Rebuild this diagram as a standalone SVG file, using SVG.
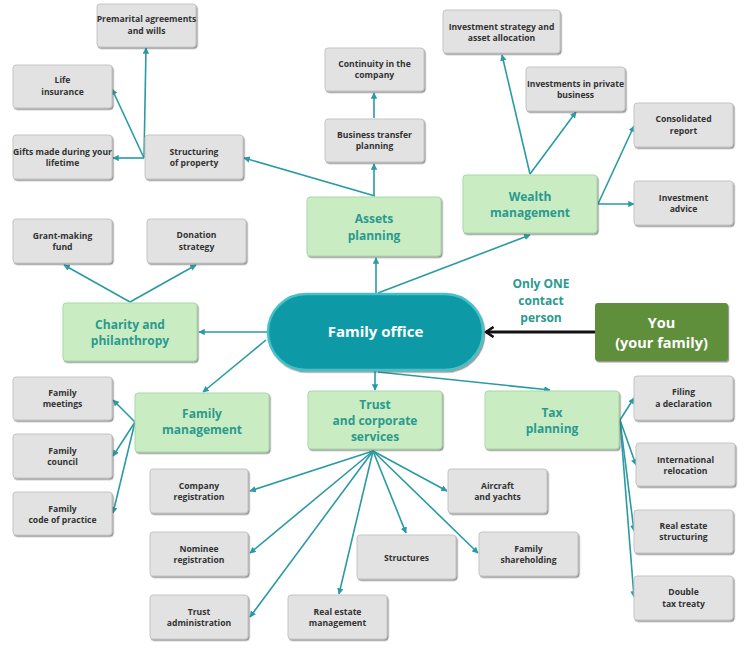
<svg xmlns="http://www.w3.org/2000/svg" width="750" height="669" viewBox="0 0 750 669">
<defs>
<marker id="a" viewBox="0 0 10 10" refX="9" refY="5" markerWidth="4" markerHeight="4" orient="auto"><path d="M0,0L10,5L0,10z" fill="#2a9aa3"/></marker>
<marker id="b" viewBox="0 0 10 10" refX="8" refY="5" markerWidth="4.5" markerHeight="4.5" orient="auto"><path d="M2,1L8,5L2,9" fill="none" stroke="#111" stroke-width="2"/></marker>
<filter id="s" x="-10%" y="-10%" width="125%" height="130%"><feDropShadow dx="1.2" dy="1.5" stdDeviation="0.6" flood-color="#555" flood-opacity="0.6"/></filter>
</defs>
<style>
.g{fill:#e2e2e2;stroke:#c4c4c4;stroke-width:1;filter:url(#s)}
.gt{font-family:"Open Sans","DejaVu Sans",sans-serif;font-weight:bold;font-size:8.6px;fill:#333;text-anchor:middle}
.n{fill:#c9ecc2;stroke:#a9d7a7;stroke-width:1;filter:url(#s)}
.nt{font-family:"Open Sans","DejaVu Sans",sans-serif;font-weight:bold;font-size:12px;fill:#2a9a8e;text-anchor:middle}
.c{fill:none;stroke:#2a9aa3;stroke-width:1.6;marker-end:url(#a)}
</style>
<rect width="750" height="669" fill="#fff"/>
<g id="connectors">
<path class="c" d="M376,294V258"/>
<path class="c" d="M378,293L530,235"/>
<path class="c" d="M374,196V164"/>
<path class="c" d="M374,118V93"/>
<path class="c" d="M375,196L244,158"/>
<path class="c" d="M144,158H113"/>
<path class="c" d="M144,158L112,89"/>
<path class="c" d="M144,158L146,48"/>
<path class="c" d="M530,174L502,55"/>
<path class="c" d="M530,174L576,112"/>
<path class="c" d="M598,204L634,126"/>
<path class="c" d="M598,204H634"/>
<path class="c" d="M130,302L64,265"/>
<path class="c" d="M130,302L196,265"/>
<path class="c" d="M268,332H199"/>
<path class="c" d="M266,340L203,392"/>
<path class="c" d="M135,422L113,400"/>
<path class="c" d="M135,422L113,456"/>
<path class="c" d="M135,422L113,513"/>
<path class="c" d="M375,370V390"/>
<path class="c" d="M378,372L550,390"/>
<path class="c" d="M373,451L250,491"/>
<path class="c" d="M373,451L250,553"/>
<path class="c" d="M373,451L250,617"/>
<path class="c" d="M373,451L339,594"/>
<path class="c" d="M373,451L406,533"/>
<path class="c" d="M373,451L447,491"/>
<path class="c" d="M373,451L478,553"/>
<path class="c" d="M620,420L634,398"/>
<path class="c" d="M620,420L636,465"/>
<path class="c" d="M620,420L634,531"/>
<path class="c" d="M620,420L634,597"/>
<path d="M595,332H486" fill="none" stroke="#111" stroke-width="2.8" marker-end="url(#b)"/>
</g>
<g id="premarital"><rect class="g" x="97" y="4" width="99" height="43" rx="3"/><text class="gt" x="146.5" y="22">Premarital agreements</text><text class="gt" x="146.5" y="34">and wills</text></g>
<g id="life"><rect class="g" x="13" y="65" width="99" height="43" rx="3"/><text class="gt" x="62.5" y="83">Life</text><text class="gt" x="62.5" y="95">insurance</text></g>
<g id="gifts"><rect class="g" x="13" y="135" width="99" height="44" rx="3"/><text class="gt" x="62.5" y="155">Gifts made during your</text><text class="gt" x="62.5" y="166">lifetime</text></g>
<g id="structuring"><rect class="g" x="145" y="135" width="98" height="44" rx="3"/><text class="gt" x="194" y="155">Structuring</text><text class="gt" x="194" y="166">of property</text></g>
<g id="grant"><rect class="g" x="13" y="219" width="99" height="44" rx="3"/><text class="gt" x="62.5" y="239">Grant-making</text><text class="gt" x="62.5" y="250">fund</text></g>
<g id="donation"><rect class="g" x="147" y="219" width="99" height="44" rx="3"/><text class="gt" x="196.5" y="238">Donation</text><text class="gt" x="196.5" y="250">strategy</text></g>
<g id="continuity"><rect class="g" x="325" y="48" width="99" height="43" rx="3"/><text class="gt" x="374.5" y="67">Continuity in the</text><text class="gt" x="374.5" y="78">company</text></g>
<g id="business"><rect class="g" x="325" y="119" width="99" height="43" rx="3"/><text class="gt" x="374.5" y="138">Business transfer</text><text class="gt" x="374.5" y="149">planning</text></g>
<g id="invstrategy"><rect class="g" x="443" y="10" width="117" height="43" rx="3"/><text class="gt" x="501.5" y="30">Investment strategy and</text><text class="gt" x="501.5" y="41">asset allocation</text></g>
<g id="invprivate"><rect class="g" x="526" y="67" width="99" height="44" rx="3"/><text class="gt" x="575.5" y="87">Investments in private</text><text class="gt" x="575.5" y="98">business</text></g>
<g id="consolidated"><rect class="g" x="634" y="103" width="99" height="44" rx="3"/><text class="gt" x="683.5" y="122">Consolidated</text><text class="gt" x="683.5" y="134">report</text></g>
<g id="advice"><rect class="g" x="634" y="181" width="99" height="44" rx="3"/><text class="gt" x="683.5" y="201">Investment</text><text class="gt" x="683.5" y="212">advice</text></g>
<g id="meetings"><rect class="g" x="13" y="377" width="99" height="43" rx="3"/><text class="gt" x="62.5" y="396">Family</text><text class="gt" x="62.5" y="407">meetings</text></g>
<g id="council"><rect class="g" x="13" y="434" width="99" height="44" rx="3"/><text class="gt" x="62.5" y="454">Family</text><text class="gt" x="62.5" y="465">council</text></g>
<g id="code"><rect class="g" x="13" y="492" width="99" height="43" rx="3"/><text class="gt" x="62.5" y="512">Family</text><text class="gt" x="62.5" y="523">code of practice</text></g>
<g id="company"><rect class="g" x="150" y="469" width="98" height="44" rx="3"/><text class="gt" x="199" y="489">Company</text><text class="gt" x="199" y="500">registration</text></g>
<g id="nominee"><rect class="g" x="150" y="532" width="98" height="44" rx="3"/><text class="gt" x="199" y="552">Nominee</text><text class="gt" x="199" y="563">registration</text></g>
<g id="trustadmin"><rect class="g" x="150" y="595" width="98" height="44" rx="3"/><text class="gt" x="199" y="615">Trust</text><text class="gt" x="199" y="626">administration</text></g>
<g id="remgmt"><rect class="g" x="288" y="595" width="99" height="44" rx="3"/><text class="gt" x="337.5" y="615">Real estate</text><text class="gt" x="337.5" y="626">management</text></g>
<g id="structures"><rect class="g" x="357" y="535" width="99" height="44" rx="3"/><text class="gt" x="406.5" y="561">Structures</text></g>
<g id="aircraft"><rect class="g" x="448" y="469" width="99" height="44" rx="3"/><text class="gt" x="497.5" y="489">Aircraft</text><text class="gt" x="497.5" y="500">and yachts</text></g>
<g id="shareholding"><rect class="g" x="479" y="532" width="99" height="44" rx="3"/><text class="gt" x="528.5" y="552">Family</text><text class="gt" x="528.5" y="563">shareholding</text></g>
<g id="filing"><rect class="g" x="634" y="376" width="99" height="44" rx="3"/><text class="gt" x="683.5" y="395">Filing</text><text class="gt" x="683.5" y="407">a declaration</text></g>
<g id="international"><rect class="g" x="636" y="443" width="99" height="43" rx="3"/><text class="gt" x="685.5" y="463">International</text><text class="gt" x="685.5" y="474">relocation</text></g>
<g id="restructuring"><rect class="g" x="634" y="510" width="99" height="43" rx="3"/><text class="gt" x="683.5" y="529">Real estate</text><text class="gt" x="683.5" y="540">structuring</text></g>
<g id="doubletax"><rect class="g" x="634" y="576" width="99" height="44" rx="3"/><text class="gt" x="683.5" y="595">Double</text><text class="gt" x="683.5" y="607">tax treaty</text></g>
<g id="assets"><rect class="n" x="307" y="197" width="134" height="59" rx="3"/><text class="nt" x="374" y="223">Assets</text><text class="nt" x="374" y="240">planning</text></g>
<g id="wealth"><rect class="n" x="463" y="175" width="134" height="58" rx="3"/><text class="nt" x="530" y="201">Wealth</text><text class="nt" x="530" y="217">management</text></g>
<g id="charity"><rect class="n" x="63" y="303" width="134" height="58" rx="3"/><text class="nt" x="130" y="329">Charity and</text><text class="nt" x="130" y="345">philanthropy</text></g>
<g id="familymgmt"><rect class="n" x="135" y="393" width="134" height="59" rx="3"/><text class="nt" x="202" y="418">Family</text><text class="nt" x="202" y="434">management</text></g>
<g id="trust"><rect class="n" x="308" y="391" width="134" height="58" rx="3"/><text class="nt" x="375" y="409">Trust</text><text class="nt" x="375" y="425">and corporate</text><text class="nt" x="375" y="441">services</text></g>
<g id="tax"><rect class="n" x="485" y="391" width="134" height="58" rx="3"/><text class="nt" x="552" y="417">Tax</text><text class="nt" x="552" y="433">planning</text></g>
<g id="familyoffice"><rect x="268" y="294" width="215" height="76" rx="38" fill="#0e9aa6" stroke="#47c1c8" stroke-width="2.5" filter="url(#s)"/><text x="375.5" y="337" font-family="Open Sans, DejaVu Sans, sans-serif" font-weight="bold" font-size="15px" fill="#fff" text-anchor="middle">Family office</text></g>
<g id="contact"><text class="nt" x="541" y="288">Only ONE</text><text class="nt" x="541" y="305">contact</text><text class="nt" x="541" y="322">person</text></g>
<g id="you"><rect x="595" y="303" width="133" height="58" rx="3" fill="#5f8f3a" filter="url(#s)"/><text x="661.5" y="328" font-family="Open Sans, DejaVu Sans, sans-serif" font-weight="bold" font-size="14.5px" fill="#fff" text-anchor="middle">You</text><text x="661.5" y="348" font-family="Open Sans, DejaVu Sans, sans-serif" font-weight="bold" font-size="14.5px" fill="#fff" text-anchor="middle">(your family)</text></g>
</svg>
